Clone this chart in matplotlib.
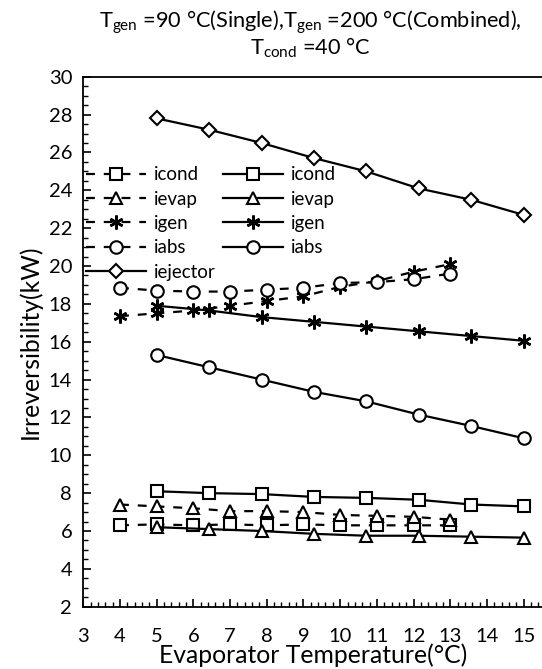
import matplotlib
matplotlib.use("Agg")
import matplotlib.pyplot as plt
from matplotlib.ticker import MultipleLocator

plt.rcParams['font.family'] = ['Lato', 'DejaVu Sans']
plt.rcParams['mathtext.fontset'] = 'custom'
plt.rcParams['mathtext.rm'] = 'Lato'
plt.rcParams['mathtext.it'] = 'Lato'

# Single-effect cycle (dashed series)
t_single = [4, 5, 6, 7, 8, 9, 10, 11, 12, 13]
icond_single = [6.3, 6.35, 6.3, 6.35, 6.3, 6.35, 6.3, 6.3, 6.3, 6.3]
ievap_single = [7.4, 7.3, 7.2, 7.05, 7.05, 7.0, 6.85, 6.8, 6.75, 6.6]
igen_single = [17.35, 17.5, 17.65, 17.9, 18.15, 18.4, 18.9, 19.2, 19.7, 20.1]
iabs_single = [18.85, 18.7, 18.65, 18.65, 18.75, 18.85, 19.1, 19.15, 19.3, 19.6]

# Combined ejector cycle (solid series)
t_comb = [5, 6.43, 7.86, 9.29, 10.71, 12.14, 13.57, 15]
icond_comb = [8.1, 8.0, 7.95, 7.8, 7.75, 7.65, 7.4, 7.3]
ievap_comb = [6.2, 6.1, 6.0, 5.85, 5.75, 5.75, 5.7, 5.65]
igen_comb = [17.9, 17.65, 17.3, 17.05, 16.8, 16.55, 16.3, 16.05]
iabs_comb = [15.3, 14.65, 14.0, 13.35, 12.85, 12.15, 11.55, 10.9]
iejector_comb = [27.8, 27.2, 26.5, 25.7, 25.0, 24.1, 23.5, 22.7]

fig = plt.figure(figsize=(5.42, 6.69), dpi=100)
ax = fig.add_axes([0.1537, 0.0931, 0.8463, 0.7922])

star = (6, 2, 0)
common = dict(color='black', lw=1.6, ms=9, mew=1.5, mfc='white', mec='black')
dash = dict(ls=(0, (4, 4)))

ax.plot(t_single, icond_single, marker='s', label='icond', **dash, **common)
ax.plot(t_single, ievap_single, marker='^', label='ievap', **dash, **common)
ax.plot(t_single, igen_single, marker=star, label='igen', **dash,
        **{**common, 'ms': 10, 'mew': 1.8})
ax.plot(t_single, iabs_single, marker='o', label='iabs', **dash, **common)
ax.plot(t_comb, iejector_comb, marker='D', label='iejector', ls='-',
        **{**common, 'ms': 7.5})
ax.plot(t_comb, icond_comb, marker='s', label='icond', ls='-', **common)
ax.plot(t_comb, ievap_comb, marker='^', label='ievap', ls='-', **common)
ax.plot(t_comb, igen_comb, marker=star, label='igen', ls='-',
        **{**common, 'ms': 10, 'mew': 1.8})
ax.plot(t_comb, iabs_comb, marker='o', label='iabs', ls='-', **common)

ax.set_xlim(3, 15.5)
ax.set_ylim(2, 30)
ax.xaxis.set_major_locator(MultipleLocator(1))
ax.xaxis.set_minor_locator(MultipleLocator(0.2))
ax.yaxis.set_major_locator(MultipleLocator(2))
ax.yaxis.set_minor_locator(MultipleLocator(0.5))
ax.set_xticks(range(3, 16))
ax.tick_params(axis='both', which='major', direction='in', length=6,
               width=1.2, labelsize=14.5, pad=8)
ax.tick_params(axis='both', which='minor', direction='in', length=3.5,
               width=1.0)
ax.tick_params(axis='x', which='major', pad=15)
for side in ['left', 'bottom', 'top']:
    ax.spines[side].set_linewidth(1.3)
ax.spines['right'].set_visible(False)

ax.set_xlabel('Evaporator Temperature(°C)', fontsize=17.8, labelpad=-1)
ax.set_ylabel('Irreversibility(kW)', fontsize=17.8, labelpad=5)

fig.text(0.572, 0.966,
         r'T$_{\rm gen}$ =90 °C(Single),T$_{\rm gen}$ =200 °C(Combined),',
         ha='center', va='center', fontsize=15.7)
fig.text(0.572, 0.928, r'T$_{\rm cond}$ =40 °C',
         ha='center', va='center', fontsize=15.7)

ax.legend(ncol=2, loc='upper left', bbox_to_anchor=(-0.01, 0.845),
          frameon=False, fontsize=13.5, handlelength=3.2,
          handletextpad=0.4, columnspacing=0.4, labelspacing=0.39,
          borderaxespad=0.0)

fig.savefig('out.png', dpi=100)
